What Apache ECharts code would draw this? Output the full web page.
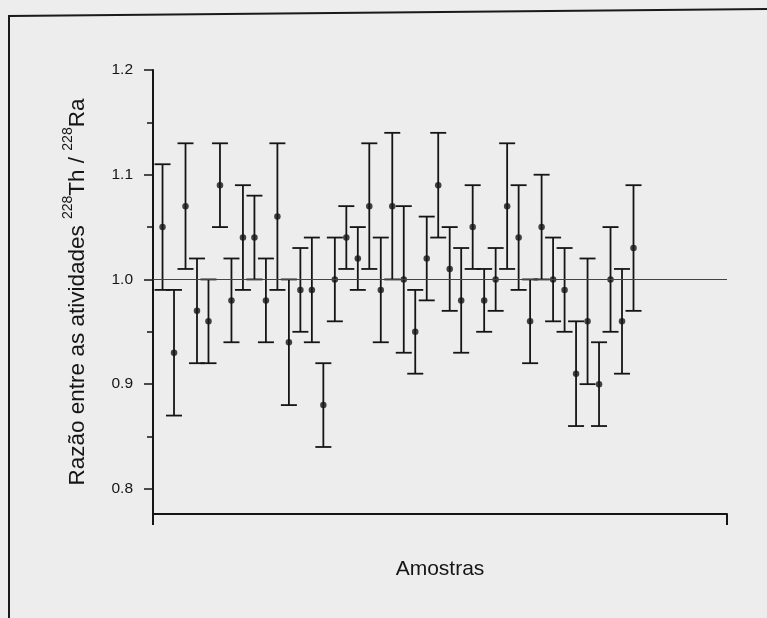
<!DOCTYPE html>
<html>
<head>
<meta charset="utf-8">
<script src="https://cdn.jsdelivr.net/npm/echarts@6/dist/echarts.min.js"></script>
<style>
html,body{margin:0;padding:0;background:#ededed;}
#chart{width:767px;height:618px;}
</style>
</head>
<body>
<div id="chart"></div>
<script>
// Sample ratios 228Th/228Ra (sample index 1..42)
var values = [1.05,0.93,1.07,0.97,0.96,1.09,0.98,1.04,1.04,0.98,1.06,0.94,0.99,0.99,0.88,1.00,1.04,1.02,1.07,0.99,1.07,1.00,0.95,1.02,1.09,1.01,0.98,1.05,0.98,1.00,1.07,1.04,0.96,1.05,1.00,0.99,0.91,0.96,0.90,1.00,0.96,1.03];
var lower  = [0.99,0.87,1.01,0.92,0.92,1.05,0.94,0.99,1.00,0.94,0.99,0.88,0.95,0.94,0.84,0.96,1.01,0.99,1.01,0.94,1.00,0.93,0.91,0.98,1.04,0.97,0.93,1.01,0.95,0.97,1.01,0.99,0.92,1.00,0.96,0.95,0.86,0.90,0.86,0.95,0.91,0.97];
var upper  = [1.11,0.99,1.13,1.02,1.00,1.13,1.02,1.09,1.08,1.02,1.13,1.00,1.03,1.04,0.92,1.04,1.07,1.05,1.13,1.04,1.14,1.07,0.99,1.06,1.14,1.05,1.03,1.09,1.01,1.03,1.13,1.09,1.00,1.10,1.04,1.03,0.96,1.02,0.94,1.05,1.01,1.09];
var yTicks = [0.8, 0.9, 1.0, 1.1, 1.2];
var yMinorTicks = [0.85, 0.95, 1.05, 1.15];
var refValue = 1.0;
var xLabel = 'Amostras';

var pts = values.map(function (v, i) { return [i + 1, v]; });
var bars = values.map(function (v, i) { return [i + 1, lower[i], upper[i]]; });

var xMin = 0.17, xMax = 50.14, yMin = 0.776, yMax = 1.2;
var ink = '#151515';
var font = '"Liberation Sans", Arial, sans-serif';

var chart = echarts.init(document.getElementById('chart'), null, {renderer: 'canvas'});
chart.setOption({
  backgroundColor: '#ededed',
  animation: false,
  grid: {left: 153, right: 40, top: 70, bottom: 104},
  graphic: [{
    type: 'polyline',
    shape: {points: [[9, 618], [9, 16], [767, 9]]},
    style: {stroke: '#1a1a1a', lineWidth: 2, fill: null},
    silent: true
  }],
  xAxis: {
    type: 'value', min: xMin, max: xMax,
    name: xLabel, nameLocation: 'middle', nameGap: 45,
    nameTextStyle: {fontSize: 21, color: ink, fontFamily: font},
    axisLine: {show: true, lineStyle: {color: ink, width: 2}},
    axisTick: {show: true, inside: false, length: 11, customValues: [xMin, xMax], lineStyle: {color: ink, width: 2}},
    axisLabel: {show: false},
    splitLine: {show: false}
  },
  yAxis: [{
    type: 'value', min: yMin, max: yMax,
    name: '{n|Razão entre as atividades }{s|228}{n|Th / }{s|228}{n|Ra}',
    nameLocation: 'middle', nameGap: 64, nameRotate: 90,
    nameTextStyle: {
      color: ink, fontFamily: font,
      rich: {
        n: {fontSize: 22.5, color: ink, fontFamily: font, lineHeight: 28, verticalAlign: 'bottom'},
        s: {fontSize: 14, color: ink, fontFamily: font, lineHeight: 28, verticalAlign: 'top'}
      }
    },
    axisLine: {show: true, lineStyle: {color: ink, width: 2}},
    axisTick: {show: true, inside: false, length: 9, customValues: yTicks, lineStyle: {color: ink, width: 1.5}},
    axisLabel: {show: true, customValues: yTicks, margin: 20, fontSize: 15.5, color: ink, fontFamily: font,
      formatter: function (v) { return v.toFixed(1); }},
    splitLine: {show: false}
  }, {
    type: 'value', min: yMin, max: yMax, position: 'left',
    axisLine: {show: false},
    axisTick: {show: true, inside: false, length: 6, customValues: yMinorTicks, lineStyle: {color: ink, width: 1.5}},
    axisLabel: {show: false},
    splitLine: {show: false}
  }],
  series: [{
    type: 'custom',
    data: bars,
    z: 3,
    renderItem: function (params, api) {
      var x = api.value(0);
      var lo = api.coord([x, api.value(1)]);
      var hi = api.coord([x, api.value(2)]);
      var hw = 8;
      var st = {stroke: ink, lineWidth: 1.8};
      return {
        type: 'group',
        children: [
          {type: 'line', shape: {x1: lo[0], y1: lo[1], x2: hi[0], y2: hi[1]}, style: st},
          {type: 'line', shape: {x1: hi[0] - hw, y1: hi[1], x2: hi[0] + hw, y2: hi[1]}, style: st},
          {type: 'line', shape: {x1: lo[0] - hw, y1: lo[1], x2: lo[0] + hw, y2: lo[1]}, style: st}
        ]
      };
    }
  }, {
    type: 'scatter',
    data: pts,
    symbol: 'circle',
    symbolSize: 6.5,
    z: 4,
    itemStyle: {color: ink},
    markLine: {
      silent: true,
      symbol: ['none', 'none'],
      label: {show: false},
      lineStyle: {color: '#444', width: 1.2, type: 'solid'},
      data: [{yAxis: refValue}]
    }
  }]
});
</script>
</body>
</html>
